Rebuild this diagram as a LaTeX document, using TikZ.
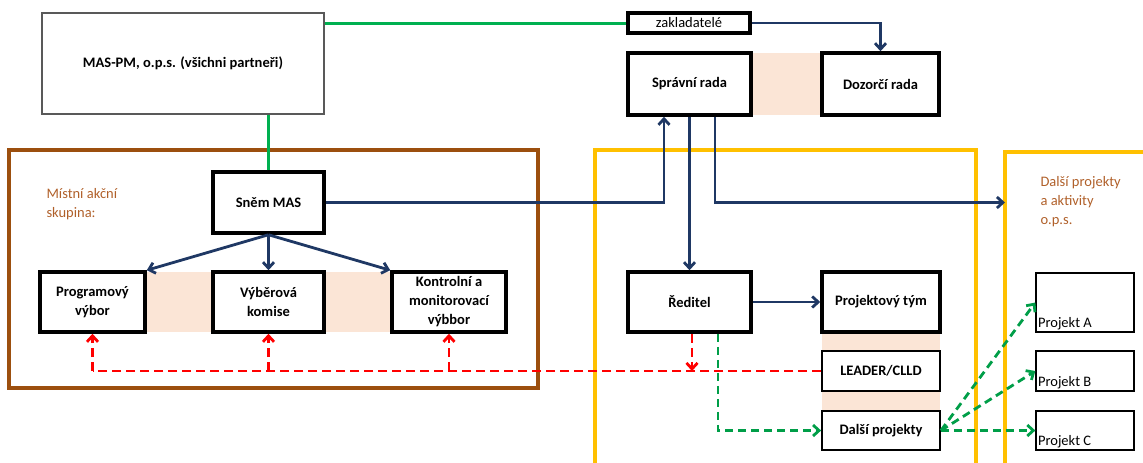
\documentclass[tikz,border=0pt]{standalone}
\usepackage{fontspec}
\setmainfont{Carlito}
\usepackage{tikz}
\usetikzlibrary{arrows.meta}

\definecolor{masgreen}{HTML}{00B050}
\definecolor{navy}{HTML}{1F3864}
\definecolor{masbrown}{HTML}{9C4F0E}
\definecolor{labelbrown}{HTML}{B0602A}
\definecolor{orgyellow}{HTML}{FFC000}
\definecolor{peach}{HTML}{FBE5D6}

\begin{document}
\begin{tikzpicture}[x=1pt,y=-1pt,>={Straight Barb[length=6pt,width=11pt]},
		every node/.style={font=\fontsize{14.5}{19}\selectfont},
		box/.style={draw=black,line width=3.5pt,fill=white,inner sep=0pt,align=center,
			font=\fontsize{14.5}{19}\selectfont\bfseries},
		thinbox/.style={box,line width=1.8pt},
		projbox/.style={draw=black,line width=1.3pt,minimum width=98pt,inner sep=0pt},
		navyline/.style={draw=navy,line width=2.8pt,->},
		reddash/.style={draw=red,line width=2.8pt,dash pattern=on 9pt off 5pt},
		greendash/.style={draw=masgreen!90!black,line width=2.8pt,dash pattern=on 8pt off 5pt}]
		\useasboundingbox (0,0) rectangle (1143,463);
		% peach strips
		\fill[peach] (751,53) rectangle (822,115);
		\fill[peach] (145,272) rectangle (213,332);
		\fill[peach] (324,272) rectangle (392,332);
		\fill[peach] (822,332) rectangle (940,351);
		\fill[peach] (822,391) rectangle (940,411);
		\draw[masbrown,line width=3.5pt] (9,150) rectangle (538,388);
		\begin{scope}                           % frames run off the page
			\clip (0,0) rectangle (1143,463);
			\draw[orgyellow,line width=3.5pt] (595,150) rectangle (976,480);
			\draw[orgyellow,line width=3.5pt] (1005,480) -- (1005,152) -- (1160,152);
		\end{scope}
		\node[align=left,anchor=north west,text=labelbrown] (maslabel) at (43,185) {Místní akční\\skupina:};
		\node[align=left,anchor=north west,text=labelbrown] (opslabel) at (1037,173) {Další projekty\\a aktivity\\o.p.s.};

		\node[thinbox,draw=gray!70!black,minimum width=282pt,minimum height=101pt] (maspm) at (183,63.5) {MAS-PM, o.p.s. (všichni partneři)};
		\node[box,font=\fontsize{14.5}{19}\selectfont,minimum width=122pt,minimum height=20pt] (zakl) at (689,23) {zakladatelé};
		\node[box,minimum width=123pt,minimum height=62pt] (spravni) at (689.5,84) {Správní rada};
		\node[box,minimum width=117pt,minimum height=62pt] (dozorci) at (880.5,84) {Dozorčí rada};
		\node[box,minimum width=111pt,minimum height=61pt] (snem) at (268.5,202.5) {Sněm MAS};
		\node[box,minimum width=105pt,minimum height=60pt] (prog) at (92.5,302) {Programový\\výbor};
		\node[box,minimum width=111pt,minimum height=60pt] (vyber) at (268.5,302) {Výběrová\\komise};
		\node[box,minimum width=114pt,minimum height=60pt] (kontrol) at (449,302) {Kontrolní a\\monitorovací\\výbbor};
		\node[box,minimum width=123pt,minimum height=60pt] (reditel) at (689.5,302) {Ředitel};
		\node[box,minimum width=118pt,minimum height=60pt] (projtym) at (881,302) {Projektový tým};
		\node[thinbox,minimum width=118pt,minimum height=40pt] (leader) at (881,371) {LEADER/CLLD};
		\node[thinbox,minimum width=118pt,minimum height=39pt] (dalsi) at (881,430.5) {Další projekty};
		\node[projbox,minimum height=59pt] (projA) at (1085,302.5) {};
		\node[projbox,minimum height=40pt] (projB) at (1085,371) {};
		\node[projbox,minimum height=39pt] (projC) at (1085,430.5) {};
		\node[anchor=south west,inner sep=2.5pt] (labA) at (projA.south west) {Projekt A};
		\node[anchor=south west,inner sep=2.5pt] (labB) at (projB.south west) {Projekt B};
		\node[anchor=south west,inner sep=2.5pt] (labC) at (projC.south west) {Projekt C};
		\coordinate (opsframe) at (1005,202.5);

		\draw[masgreen,line width=3pt] (zakl.west) -- (zakl.west -| maspm.east);
		\draw[masgreen,line width=3pt] (snem.north) -- (snem.north |- maspm.south);
		\draw[navyline] (zakl.east) -| (dozorci.north);
		\draw[navyline] (snem.east) -| ([xshift=-25.5pt]spravni.south);
		\draw[navyline] (spravni.south) -- (reditel.north);
		\draw[navyline] ([xshift=25.5pt]spravni.south) |- (opsframe);
		\draw[navyline] (reditel.east) -- (projtym.west);
		\draw[navyline] (snem.south) -- (prog.north east);
		\draw[navyline] (snem.south) -- (vyber.north);
		\draw[navyline] (snem.south) -- (kontrol.north west);

		\draw[reddash] (leader.west) -- (prog.south |- leader.west);
		\draw[reddash,->] (prog.south |- leader.west) -- (prog.south);
		\draw[reddash,->] (vyber.south |- leader.west) -- (vyber.south);
		\draw[reddash,->] (kontrol.south |- leader.west) -- (kontrol.south);
		\draw[reddash,->] ([xshift=2.5pt]reditel.south) -- ([xshift=2.5pt]reditel.south |- leader.west);

		\draw[greendash,->] ([xshift=28.5pt]reditel.south) |- (dalsi.west);
		\draw[greendash,->] (dalsi.east) -- (projA.west);
		\draw[greendash,->] (dalsi.east) -- (projB.west);
		\draw[greendash,->] (dalsi.east) -- (projC.west);
\end{tikzpicture}
\end{document}
